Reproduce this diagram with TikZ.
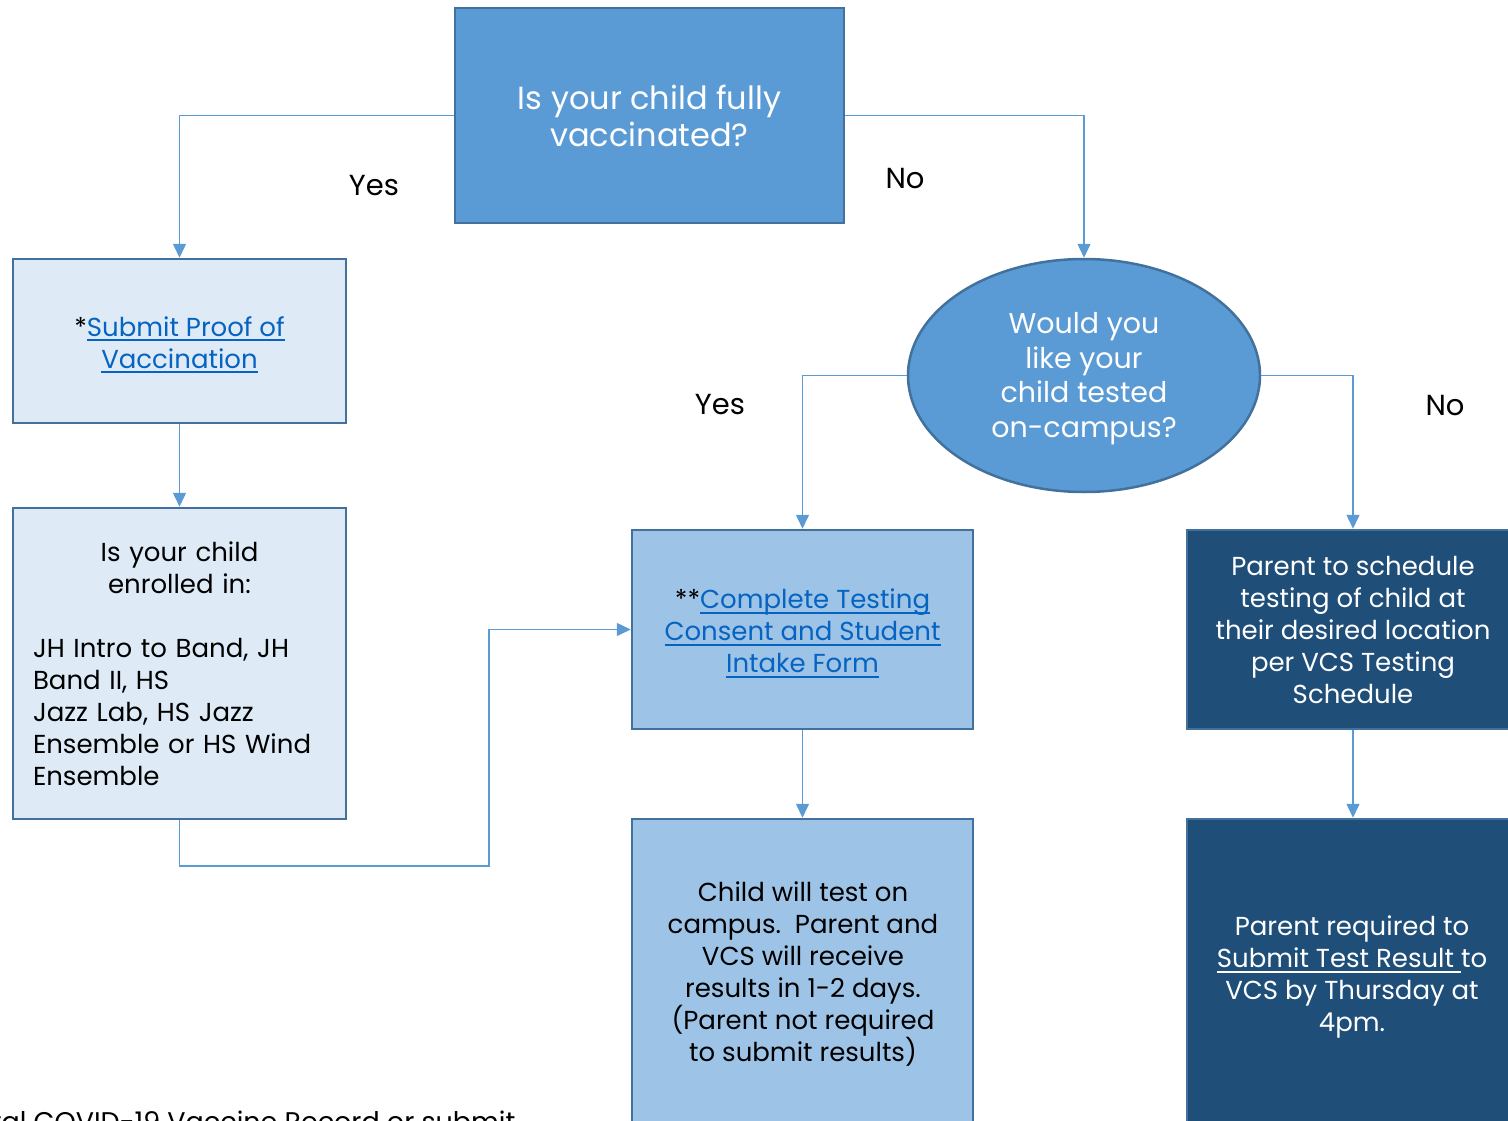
\documentclass[tikz,border=0pt]{standalone}
\usepackage{fontspec}
\setmainfont{Poppins}
\usepackage{xcolor}
\usetikzlibrary{arrows.meta,shapes.geometric}

\definecolor{midblue}{HTML}{5B9BD5}
\definecolor{edgeblue}{HTML}{41719C}
\definecolor{paleblue}{HTML}{DEEBF7}
\definecolor{lightblue}{HTML}{9DC3E6}
\definecolor{darkblue}{HTML}{1F4E79}
\definecolor{linkblue}{HTML}{0563C1}

\newcommand\lnk[1]{\setbox0\hbox{#1}\rlap{\rule[-5pt]{\wd0}{2pt}}\box0}
\newcommand\lowered{\rule{0pt}{27pt}}

\begin{document}
\begin{tikzpicture}[x=1pt,y=-1pt,
    boxed/.style={rectangle,draw=edgeblue,line width=2.5pt,inner sep=0pt,
                  align=center,font=\fontsize{26}{32}\selectfont},
    answer/.style={font=\fontsize{29}{32}\selectfont,text=black},
    elbow/.style={to path={-| (\tikztotarget)}}]
    \useasboundingbox (0,0) rectangle (1508,1121);
    \clip (0,0) rectangle (1508,1121);

    \node[boxed,fill=midblue,text=white,minimum width=389,minimum height=215,
          font=\fontsize{32}{37}\selectfont] (top) at (649.5,115.5)
          {Is your child fully\\vaccinated?};
    \node[boxed,fill=paleblue,minimum width=333,minimum height=164] (proof) at (179.5,341)
          {\lowered*{\color{linkblue}\lnk{Submit Proof of}}\\{\color{linkblue}\lnk{Vaccination}}};
    \node[boxed,fill=paleblue,minimum width=333,minimum height=311,
          text width=293,align=left] (enroll) at (179.5,663.5)
          {{\centering Is your child\\enrolled in:\par}\mbox{}\\
           JH Intro to Band, JH\\Band II, HS\\Jazz Lab, HS Jazz\\Ensemble or HS Wind\\Ensemble};
    \node[boxed,ellipse,fill=midblue,text=white,minimum width=352,minimum height=233,
          font=\fontsize{28.5}{34.5}\selectfont] (oncampus) at (1084,375.5)
          {\lowered Would you\\like your\\child tested\\on-campus?};
    \node[boxed,fill=lightblue,minimum width=341,minimum height=199] (consent) at (802.5,629.5)
          {\lowered**{\color{linkblue}\lnk{Complete Testing}}\\{\color{linkblue}\lnk{Consent and Student}}\\
           {\color{linkblue}\lnk{Intake Form}}};
    \node[boxed,fill=lightblue,minimum width=341,minimum height=340] (child) at (802.5,989) {};
    \node[align=center,font=\fontsize{26}{32}\selectfont] (childtxt) at (803,974)
          {Child will test on\\campus.\ \ Parent and\\VCS will receive\\results in 1-2 days.\\
           (Parent not required\\to submit results)};
    \node[boxed,fill=darkblue,text=white,minimum width=332,minimum height=199] (schedule) at (1353,629.5)
          {Parent to schedule\\testing of child at\\their desired location\\per VCS Testing\\Schedule};
    \node[boxed,fill=darkblue,minimum width=332,minimum height=340] (result) at (1353,989) {};
    \node[align=center,text=white,font=\fontsize{26}{32}\selectfont] (resulttxt) at (1352,977)
          {Parent required to\\\lnk{Submit Test Result\ }to\\VCS by Thursday at\\4pm.};

    \node[answer] (yesA) at (374,186) {Yes};
    \node[answer] (noA) at (905,179) {No};
    \node[answer] (yesB) at (720,405) {Yes};
    \node[answer] (noB) at (1445,406) {No};
    \node[anchor=base east,font=\fontsize{27}{32}\selectfont] (footnote) at (519,1131)
          {tal COVID-19 Vaccine Record or submit};

    \coordinate (bend) at (489,866);

    \begin{scope}[>={Triangle[width=13pt,length=14pt]},
                  every edge/.style={draw=midblue,line width=1.5pt}]
        \path [->] (top.west) edge[elbow] (proof.north);
        \path [->] (top.east) edge[elbow] (oncampus.north);
        \path [->] (proof) edge (enroll);
        \path [->] (oncampus.west) edge[elbow] (consent.north);
        \path [->] (oncampus.east) edge[elbow] (schedule.north);
        \path [->] (consent) edge (child);
        \path [->] (schedule) edge (result);
        \draw [->,draw=midblue,line width=1.5pt] (enroll.south) |- (bend) |- (consent.west);
    \end{scope}
\end{tikzpicture}
\end{document}
